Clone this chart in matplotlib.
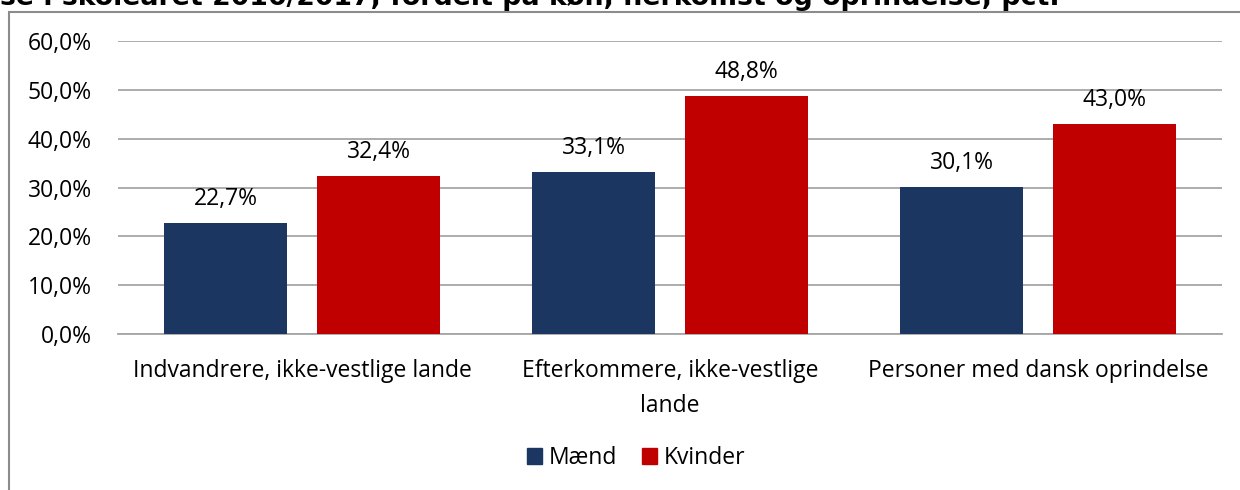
import numpy as np
import matplotlib
matplotlib.use("Agg")
import matplotlib.pyplot as plt
from matplotlib.patches import Rectangle, Patch

# data
categories = ["Indvandrere, ikke-vestlige lande",
              "Efterkommere, ikke-vestlige\nlande",
              "Personer med dansk oprindelse"]
maend = [22.7, 33.1, 30.1]
kvinder = [32.4, 48.8, 43.0]
series_names = ["Mænd", "Kvinder"]
yticks = [0, 10, 20, 30, 40, 50, 60]

blue = "#1b3660"
red = "#c00000"
grid_col = "#a6a6a6"
fs = 16.5

plt.rcParams['font.family'] = ['Open Sans', 'DejaVu Sans']

fig = plt.figure(figsize=(12.4, 4.9), dpi=100)

# outer chart border (cut off right and bottom)
fig.patches.append(Rectangle((9 / 1240, -0.1), 1.2, 1 - 12.5 / 490 + 0.1,
                             transform=fig.transFigure, fill=False,
                             edgecolor="#8c8c8c", lw=1.5))

# title, mostly cut off at top
fig.text(0.0, 1 - 5 / 490, "se i skoleåret 2016/2017, fordelt på køn, herkomst og oprindelse, pct.",
         fontsize=19.3, fontweight="bold", family="DejaVu Sans", va="baseline", ha="left")

ax = fig.add_axes([118 / 1240, 1 - 334 / 490, (1222 - 118) / 1240, (334 - 41) / 490])

x = np.arange(len(categories))
w = 0.332
off = 0.208
b1 = ax.bar(x - off, maend, w, color=blue, zorder=3)
b2 = ax.bar(x + off, kvinder, w, color=red, zorder=3)

for bars, vals in [(b1, maend), (b2, kvinder)]:
    for rect, v in zip(bars, vals):
        ax.annotate(f"{v:.1f}%".replace(".", ","),
                    (rect.get_x() + rect.get_width() / 2, v),
                    xytext=(0, 13), textcoords="offset points",
                    ha="center", va="baseline", fontsize=fs)

ax.set_xlim(-0.5, 2.5)
ax.set_ylim(0, 60)
ax.set_yticks(yticks)
ax.set_yticklabels([f"{t:.1f}%".replace(".", ",") for t in yticks], fontsize=fs)
ax.yaxis.grid(True, color=grid_col, lw=1.3, zorder=0)
ax.set_xticks(x)
ax.set_xticklabels(categories, fontsize=fs, linespacing=1.6)
ax.tick_params(axis="both", length=0)
ax.tick_params(axis="y", pad=19)
ax.tick_params(axis="x", pad=18)
for s in ["top", "right", "left"]:
    ax.spines[s].set_visible(False)
ax.spines["bottom"].set_color(grid_col)
ax.spines["bottom"].set_linewidth(1.3)

handles = [Patch(color=blue), Patch(color=red)]
fig.legend(handles, series_names, loc="center", bbox_to_anchor=(636 / 1240, 1 - 458 / 490),
           ncol=2, frameon=False, fontsize=fs, handlelength=0.65, handleheight=0.65,
           handletextpad=0.3, columnspacing=1.1)

fig.savefig("out.png", dpi=100)
